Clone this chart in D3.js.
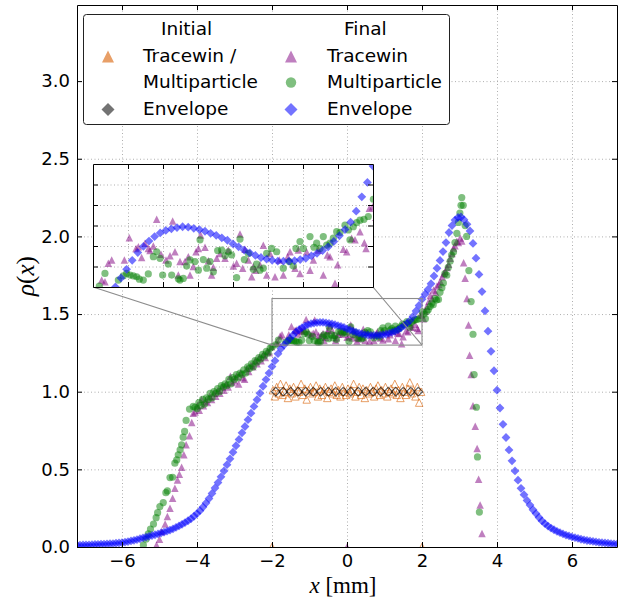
<!DOCTYPE html>
<html><head><meta charset="utf-8">
<script src="https://cdn.jsdelivr.net/npm/d3@7"></script>
<style>body{margin:0;background:#fff}svg{display:block}</style>
</head><body>
<svg id="chart" width="619" height="598"></svg>
<script>
// ---------------- DATA ----------------
// Final envelope (blue diamonds) sampled on a regular grid
const envelopeGrid = d3.range(0, 181).map(i => +(-7.2 + 0.08 * i).toFixed(2));
const finalEnvelope = [
0.012,0.012,0.013,0.013,0.014,0.015,0.016,0.017,0.018,0.019,
0.020,0.021,0.022,0.024,0.026,0.028,0.031,0.035,0.039,0.043,
0.048,0.053,0.059,0.064,0.069,0.074,0.079,0.084,0.090,0.096,
0.102,0.109,0.117,0.126,0.136,0.146,0.157,0.169,0.182,0.198,
0.215,0.234,0.257,0.283,0.312,0.345,0.380,0.415,0.452,0.490,
0.530,0.568,0.610,0.652,0.693,0.735,0.776,0.820,0.862,0.905,
0.948,0.990,1.035,1.078,1.120,1.162,1.200,1.245,1.278,1.300,
1.322,1.343,1.365,1.384,1.399,1.412,1.423,1.432,1.438,1.442,
1.445,1.447,1.446,1.443,1.440,1.436,1.431,1.426,1.420,1.414,
1.405,1.398,1.390,1.383,1.377,1.372,1.368,1.365,1.363,1.363,
1.363,1.364,1.367,1.370,1.376,1.382,1.389,1.398,1.411,1.425,
1.440,1.458,1.485,1.520,1.555,1.595,1.628,1.658,1.695,1.745,
1.795,1.845,1.902,1.960,2.025,2.070,2.105,2.122,2.125,2.108,
2.078,2.035,1.955,1.860,1.755,1.645,1.520,1.390,1.260,1.135,
1.010,0.895,0.790,0.705,0.625,0.555,0.490,0.430,0.378,0.337,
0.300,0.270,0.240,0.215,0.190,0.168,0.150,0.135,0.122,0.111,
0.101,0.092,0.084,0.077,0.071,0.065,0.060,0.055,0.050,0.046,
0.042,0.039,0.036,0.033,0.030,0.028,0.026,0.024,0.022,0.020,
0.019];

// Final Tracewin (purple triangles) [x, rho]
const finalTracewin = [
[-5.08,0.013],[-5.00,0.05],[-4.94,0.10],[-4.85,0.148],[-4.79,0.196],[-4.72,0.25],[-4.65,0.314],[-4.59,0.378],
[-4.52,0.432],[-4.47,0.469],[-4.41,0.514],[-4.35,0.594],[-4.29,0.658],[-4.20,0.716],[-4.14,0.802],[-4.10,0.862],
[-4.05,0.87],[-3.99,0.91],[-3.94,0.88],[-3.88,0.95],[-3.83,0.91],[-3.77,0.94],[-3.72,0.93],[-3.66,0.97],
[-3.61,0.95],[-3.55,0.99],[-3.50,0.97],[-3.44,1.01],[-3.39,0.99],[-3.33,1.03],[-3.28,1.01],[-3.22,1.05],
[-3.17,1.03],[-3.11,1.10],[-3.06,1.06],[-3.00,1.07],[-2.95,1.10],[-2.89,1.05],[-2.84,1.12],[-2.78,1.09],
[-2.73,1.08],[-2.67,1.15],[-2.62,1.13],[-2.56,1.17],[-2.51,1.16],[-2.45,1.20],[-2.40,1.18],[-2.34,1.22],
[-2.29,1.20],[-2.23,1.24],[-2.18,1.22],[-2.12,1.26],[-2.07,1.25],[-2.01,1.29],
[-1.876,1.317],[-1.829,1.313],[-1.781,1.358],[-1.733,1.366],[-1.552,1.366],[-1.481,1.420],[-1.386,1.394],[-1.352,1.398],
[-1.305,1.372],[-1.257,1.407],[-1.210,1.394],[-1.186,1.389],[-1.138,1.400],[-1.090,1.465],[-1.029,1.380],[-0.957,1.366],
[-0.900,1.376],[-0.862,1.461],[-0.829,1.386],[-0.781,1.329],[-0.757,1.362],[-0.686,1.362],[-0.638,1.374],[-0.614,1.329],
[-0.567,1.350],[-0.529,1.386],[-0.495,1.394],[-0.462,1.427],[-0.400,1.397],[-0.352,1.364],[-0.305,1.329],[-0.281,1.348],
[-0.233,1.370],[-0.186,1.382],[-0.114,1.370],[-0.067,1.390],[0.005,1.351],[0.052,1.358],[0.100,1.429],[0.138,1.346],
[0.171,1.392],[0.219,1.366],[0.267,1.325],[0.290,1.350],[0.324,1.341],[0.386,1.354],[0.433,1.402],[0.481,1.329],
[0.529,1.382],[0.600,1.325],[0.662,1.366],[0.719,1.329],[0.781,1.374],[0.814,1.386],[0.886,1.346],[0.933,1.390],
[0.957,1.333],[1.052,1.386],[1.100,1.341],[1.148,1.366],[1.219,1.390],[1.290,1.329],[1.348,1.378],[1.386,1.374],
[1.457,1.309],[1.495,1.354],[1.576,1.392],[1.624,1.386],[1.695,1.419],[1.743,1.415],[1.814,1.435],[1.876,1.408],
[1.900,1.394],[1.948,1.492],[1.995,1.496],
[2.04,1.47],[2.09,1.52],[2.13,1.55],[2.18,1.58],[2.22,1.62],[2.27,1.60],[2.31,1.655],[2.36,1.64],
[2.40,1.68],[2.45,1.69],[2.49,1.71],[2.54,1.74],[2.58,1.76],[2.62,1.774],[2.67,1.80],[2.71,1.82],
[2.75,1.86],[2.80,1.89],[2.84,1.925],[2.88,1.94],[2.93,1.968],[2.97,1.96],[3.02,1.99],[3.06,1.97],
[3.11,1.83],[3.15,1.73],[3.20,1.60],[3.24,1.43],[3.27,1.235],[3.31,1.11],[3.36,0.91],[3.42,0.777],
[3.47,0.635],[3.51,0.437],[3.55,0.27],[3.60,0.087],[0.00,0.0]];

// Final Multiparticle (green circles) [x, rho]
const finalMultiparticle = [
[-5.43,0.013],[-5.36,0.05],[-5.30,0.084],[-5.24,0.116],[-5.16,0.148],[-5.09,0.189],[-5.05,0.221],[-4.99,0.26],
[-4.90,0.286],[-4.83,0.35],[-4.79,0.361],[-4.72,0.447],[-4.65,0.449],[-4.59,0.54],[-4.54,0.561],[-4.50,0.594],
[-4.45,0.626],[-4.41,0.658],[-4.37,0.707],[-4.33,0.744],[-4.29,0.815],[-4.20,0.888],[-4.10,0.905],
[-4.05,0.90],[-4.00,0.89],[-3.95,0.93],[-3.90,0.91],[-3.85,0.95],[-3.80,0.92],[-3.75,0.96],[-3.70,0.95],
[-3.65,0.99],[-3.60,0.96],[-3.55,1.00],[-3.50,0.99],[-3.45,1.02],[-3.40,1.00],[-3.35,1.04],[-3.30,1.03],
[-3.25,1.05],[-3.20,1.04],[-3.15,1.08],[-3.10,1.05],[-3.05,1.09],[-3.00,1.08],[-2.95,1.11],[-2.90,1.09],
[-2.85,1.12],[-2.80,1.11],[-2.75,1.14],[-2.70,1.12],[-2.65,1.16],[-2.60,1.15],[-2.55,1.18],[-2.50,1.16],
[-2.45,1.20],[-2.40,1.19],[-2.35,1.22],[-2.30,1.21],[-2.25,1.24],[-2.20,1.23],[-2.15,1.26],[-2.10,1.25],
[-2.05,1.28],[-2.00,1.29],
[-1.910,1.302],[-1.829,1.333],[-1.638,1.317],[-1.567,1.327],[-1.519,1.333],[-1.471,1.329],[-1.424,1.327],[-1.376,1.325],
[-1.338,1.319],[-1.281,1.317],[-1.210,1.332],[-1.138,1.374],[-1.090,1.386],[-1.043,1.370],[-1.005,1.329],[-0.924,1.356],
[-0.876,1.329],[-0.781,1.320],[-0.757,1.317],[-0.710,1.321],[-0.662,1.351],[-0.614,1.366],[-0.543,1.362],[-0.495,1.341],
[-0.471,1.415],[-0.424,1.367],[-0.376,1.346],[-0.329,1.362],[-0.281,1.337],[-0.219,1.389],[-0.162,1.390],[-0.114,1.376],
[-0.067,1.386],[-0.019,1.378],[0.052,1.323],[0.100,1.417],[0.162,1.367],[0.219,1.382],[0.290,1.343],[0.338,1.356],
[0.386,1.341],[0.433,1.346],[0.481,1.382],[0.552,1.394],[0.624,1.386],[0.719,1.346],[0.805,1.362],[0.862,1.351],
[0.900,1.394],[0.957,1.411],[1.005,1.394],[1.100,1.423],[1.157,1.397],[1.195,1.407],[1.243,1.394],[1.290,1.423],
[1.338,1.402],[1.386,1.407],[1.433,1.419],[1.481,1.435],[1.529,1.433],[1.600,1.451],[1.648,1.439],[1.671,1.415],
[1.719,1.447],[1.767,1.457],[1.814,1.463],[1.871,1.465],[1.933,1.472],[2.005,1.514],
[2.05,1.50],[2.09,1.47],[2.13,1.516],[2.17,1.53],[2.22,1.55],[2.26,1.57],[2.30,1.56],[2.35,1.60],
[2.39,1.59],[2.44,1.594],[2.48,1.64],[2.53,1.67],[2.57,1.70],[2.61,1.76],[2.66,1.75],[2.70,1.80],
[2.75,1.84],[2.79,1.88],[2.84,1.90],[2.88,1.96],[2.93,2.02],[2.97,2.09],[3.01,2.15],[3.04,2.20],
[3.06,2.25],[3.10,2.20],[3.15,2.07],[3.19,2.00],[3.25,1.78],[3.31,1.58],[3.36,1.37],[3.39,1.11],
[3.45,0.90],[3.48,0.58],[3.53,0.225]];

// Initial Tracewin / Multiparticle (orange open triangles)
const initialGrid = d3.range(0, 80).map(i => +(-1.975 + 0.05 * i).toFixed(3));
const initialTracewin = [
1.01,0.97,1.03,0.99,1.05,0.98,1.00,1.04,0.96,1.02,
0.99,1.03,0.97,1.01,1.00,1.05,0.98,1.02,0.95,1.01,
1.03,0.99,1.00,1.04,0.97,1.02,0.98,1.01,1.03,0.96,
1.00,1.02,0.99,1.04,0.98,1.01,0.97,1.03,1.00,0.98,
1.02,0.99,1.01,1.05,0.97,1.00,1.03,0.98,1.02,0.96,
1.01,0.99,1.03,1.00,0.97,1.02,1.04,0.98,1.01,0.99,
1.03,0.97,1.00,1.02,0.99,1.05,0.98,1.01,0.96,1.03,
1.00,0.98,1.02,1.06,0.99,1.01,0.97,1.03,0.93,1.00];
const initialEdgeX = [-2.0, 2.0];
const initialEdgeY = [0.0, 0.0];

// Initial envelope (grey open diamonds)
const initialEnvelopeX = [-1.9,-1.7,-1.5,-1.3,-1.1,-0.9,-0.7,-0.5,-0.3,-0.1,0.1,0.3,0.5,0.7,0.9,1.1,1.3,1.5,1.7,1.9];
const initialEnvelope = [1.00,1.00,1.00,1.00,1.00,1.00,1.00,1.00,1.00,1.00,1.00,1.00,1.00,1.00,1.00,1.00,1.00,1.00,1.00,1.00];

const xTicks = [-6,-4,-2,0,2,4,6];
const yTicks = [0,0.5,1.0,1.5,2.0,2.5,3.0];
const insetXTicks = [-1.5,-1,-0.5,0,0.5,1,1.5];
const insetYTicks = [1.35,1.4,1.45,1.5,1.55];

// ---------------- DRAWING ----------------
const svg = d3.select('#chart');
const X0 = 77, X1 = 617, Y0 = 547, Y1 = 5;
const x = d3.scaleLinear().domain([-7.2, 7.2]).range([X0, X1]);
const y = d3.scaleLinear().domain([0, 3.49]).range([Y0, Y1]);

const IX0 = 93, IX1 = 373, IY0 = 287, IY1 = 164;
const xi = d3.scaleLinear().domain([-2, 2]).range([IX0, IX1]);
const yi = d3.scaleLinear().domain([1.3, 1.6]).range([IY0, IY1]);

const defs = svg.append('defs');
defs.append('clipPath').attr('id','mainClip').append('rect')
  .attr('x',X0).attr('y',Y1).attr('width',X1-X0).attr('height',Y0-Y1);
defs.append('clipPath').attr('id','insetClip').append('rect')
  .attr('x',IX0).attr('y',IY1).attr('width',IX1-IX0).attr('height',IY0-IY1);

const fmt = d => (d < 0 ? '\u2212' + Math.abs(d) : String(d));
const TICKFONT = '"DejaVu Sans", Verdana, sans-serif';

function triPath(h){ return `M0,${-h/2}L${h/2},${h/2}L${-h/2},${h/2}Z`; }
function diaPath(r){ return `M0,${-r}L${r},0L0,${r}L${-r},0Z`; }
function circPath(r){ return d3.symbol(d3.symbolCircle, Math.PI*r*r)(); }

const COL = {orange:'#d95f02', grey:'#000000', purple:'#800080', green:'#008000', blue:'#0000ff'};

function gridLines(g, xs, ys, xsc, ysc, x0, x1, y0, y1){
  g.append('g').attr('transform',`translate(0,${y0})`)
    .call(d3.axisBottom(xsc).tickValues(xs).tickSize(-(y0-y1)).tickFormat(''))
    .call(a => { a.select('.domain').remove();
      a.selectAll('line').attr('stroke','#9a9a9a').attr('stroke-width',0.8).attr('stroke-dasharray','1,2.5'); });
  g.append('g').attr('transform',`translate(${x0},0)`)
    .call(d3.axisLeft(ysc).tickValues(ys).tickSize(-(x1-x0)).tickFormat(''))
    .call(a => { a.select('.domain').remove();
      a.selectAll('line').attr('stroke','#9a9a9a').attr('stroke-width',0.8).attr('stroke-dasharray','1,2.5'); });
}

function drawSeries(g, xsc, ysc){
  g.append('g').selectAll('path').data(initialGrid.map((d,i)=>[d, initialTracewin[i]])
      .concat(initialEdgeX.map((d,i)=>[d, initialEdgeY[i]])))
    .join('path').attr('d', triPath(7.5))
    .attr('transform', d=>`translate(${xsc(d[0])},${ysc(d[1])})`)
    .attr('fill','none').attr('stroke',COL.orange).attr('stroke-opacity',0.6).attr('stroke-width',1);
  g.append('g').selectAll('path').data(initialEnvelopeX.map((d,i)=>[d, initialEnvelope[i]]))
    .join('path').attr('d', diaPath(4.3))
    .attr('transform', d=>`translate(${xsc(d[0])},${ysc(d[1])})`)
    .attr('fill','none').attr('stroke',COL.grey).attr('stroke-opacity',0.65).attr('stroke-width',1.1);
  g.append('g').selectAll('path').data(finalTracewin)
    .join('path').attr('d', triPath(7.5))
    .attr('transform', d=>`translate(${xsc(d[0])},${ysc(d[1])})`)
    .attr('fill',COL.purple).attr('fill-opacity',0.5);
  g.append('g').selectAll('path').data(finalMultiparticle)
    .join('path').attr('d', circPath(3.6))
    .attr('transform', d=>`translate(${xsc(d[0])},${ysc(d[1])})`)
    .attr('fill',COL.green).attr('fill-opacity',0.5);
  g.append('g').selectAll('path').data(envelopeGrid.map((d,i)=>[d, finalEnvelope[i]]))
    .join('path').attr('d', diaPath(4.4))
    .attr('transform', d=>`translate(${xsc(d[0])},${ysc(d[1])})`)
    .attr('fill',COL.blue).attr('fill-opacity',0.55);
}

function frame(g, xsc, ysc, xs, ys, x0, x1, y0, y1, labels){
  const tl = 5;
  const b = g.append('g').attr('transform',`translate(0,${y0})`)
    .call(d3.axisBottom(xsc).tickValues(xs).tickSizeInner(-tl).tickSizeOuter(0).tickPadding(7).tickFormat(labels?fmt:''));
  const t = g.append('g').attr('transform',`translate(0,${y1})`)
    .call(d3.axisTop(xsc).tickValues(xs).tickSizeInner(-tl).tickSizeOuter(0).tickFormat(''));
  const l = g.append('g').attr('transform',`translate(${x0},0)`)
    .call(d3.axisLeft(ysc).tickValues(ys).tickSizeInner(-tl).tickSizeOuter(0).tickPadding(7).tickFormat(labels?d3.format('.1f'):''));
  const r = g.append('g').attr('transform',`translate(${x1},0)`)
    .call(d3.axisRight(ysc).tickValues(ys).tickSizeInner(-tl).tickSizeOuter(0).tickFormat(''));
  [b,t,l,r].forEach(a => {
    a.select('.domain').attr('stroke','#000').attr('stroke-width',1);
    a.selectAll('line').attr('stroke','#000').attr('stroke-width',1);
    a.selectAll('text').attr('font-family',TICKFONT).attr('font-size',18).attr('fill','#000');
  });
}

// main grid
gridLines(svg.append('g'), xTicks, yTicks.filter(v=>v>0), x, y, X0, X1, Y0, Y1);

// main data
drawSeries(svg.append('g').attr('clip-path','url(#mainClip)'), x, y);

// zoom rectangle and connectors
const zr = svg.append('g').attr('stroke','#8c8c8c').attr('stroke-width',1.1).attr('fill','none');
zr.append('rect').attr('x',x(-2)).attr('y',y(1.6)).attr('width',x(2)-x(-2)).attr('height',y(1.3)-y(1.6));
zr.append('line').attr('x1',IX0).attr('y1',IY0).attr('x2',x(-2)).attr('y2',y(1.3));
zr.append('line').attr('x1',IX1).attr('y1',IY0).attr('x2',x(2)).attr('y2',y(1.3));

// main frame + axes
frame(svg.append('g'), x, y, xTicks, yTicks, X0, X1, Y0, Y1, true);

// axis titles
svg.append('text').attr('x',343).attr('y',593).attr('text-anchor','middle')
  .attr('font-family','"Liberation Serif", "DejaVu Serif", serif').attr('font-size',23)
  .call(t => { t.append('tspan').attr('font-style','italic').text('x');
               t.append('tspan').text(' [mm]'); });
svg.append('text').attr('transform','translate(34,276) rotate(-90)').attr('text-anchor','middle')
  .attr('font-family','"Liberation Serif", "DejaVu Serif", serif').attr('font-size',25)
  .call(t => { t.append('tspan').attr('font-style','italic').text('\u03C1');
               t.append('tspan').text('(');
               t.append('tspan').attr('font-style','italic').text('x');
               t.append('tspan').text(')'); });

// inset
const inset = svg.append('g');
inset.append('rect').attr('x',IX0).attr('y',IY1).attr('width',IX1-IX0).attr('height',IY0-IY1).attr('fill','#fff');
gridLines(inset.append('g'), insetXTicks, insetYTicks, xi, yi, IX0, IX1, IY0, IY1);
drawSeries(inset.append('g').attr('clip-path','url(#insetClip)'), xi, yi);
frame(inset.append('g'), xi, yi, insetXTicks, insetYTicks, IX0, IX1, IY0, IY1, false);

// legend
const lg = svg.append('g');
lg.append('rect').attr('x',83.5).attr('y',14.5).attr('width',366).attr('height',110).attr('rx',3)
  .attr('fill','#fff').attr('stroke','#222').attr('stroke-width',1);
const legendText = [
  {x:161, y:35, t:'Initial'}, {x:143, y:62, t:'Tracewin /'}, {x:143, y:88, t:'Multiparticle'}, {x:143, y:115, t:'Envelope'},
  {x:344, y:35, t:'Final'}, {x:327, y:62, t:'Tracewin'}, {x:327, y:88, t:'Multiparticle'}, {x:327, y:115, t:'Envelope'}
];
lg.selectAll('text').data(legendText).join('text')
  .attr('x',d=>d.x).attr('y',d=>d.y).text(d=>d.t)
  .attr('font-family',TICKFONT).attr('font-size',18.5).attr('fill','#000');
const legendMarks = [
  {x:108, y:56.5, d:triPath(12), c:COL.orange, o:0.6},
  {x:108, y:109.5, d:diaPath(6.5), c:COL.grey, o:0.55},
  {x:291, y:56.5, d:triPath(12), c:COL.purple, o:0.5},
  {x:291, y:82.5, d:circPath(5.2), c:COL.green, o:0.5},
  {x:291, y:109.5, d:diaPath(6.5), c:COL.blue, o:0.55}
];
lg.selectAll('path').data(legendMarks).join('path')
  .attr('d',d=>d.d).attr('transform',d=>`translate(${d.x},${d.y})`)
  .attr('fill',d=>d.c).attr('fill-opacity',d=>d.o);
</script>
</body></html>
